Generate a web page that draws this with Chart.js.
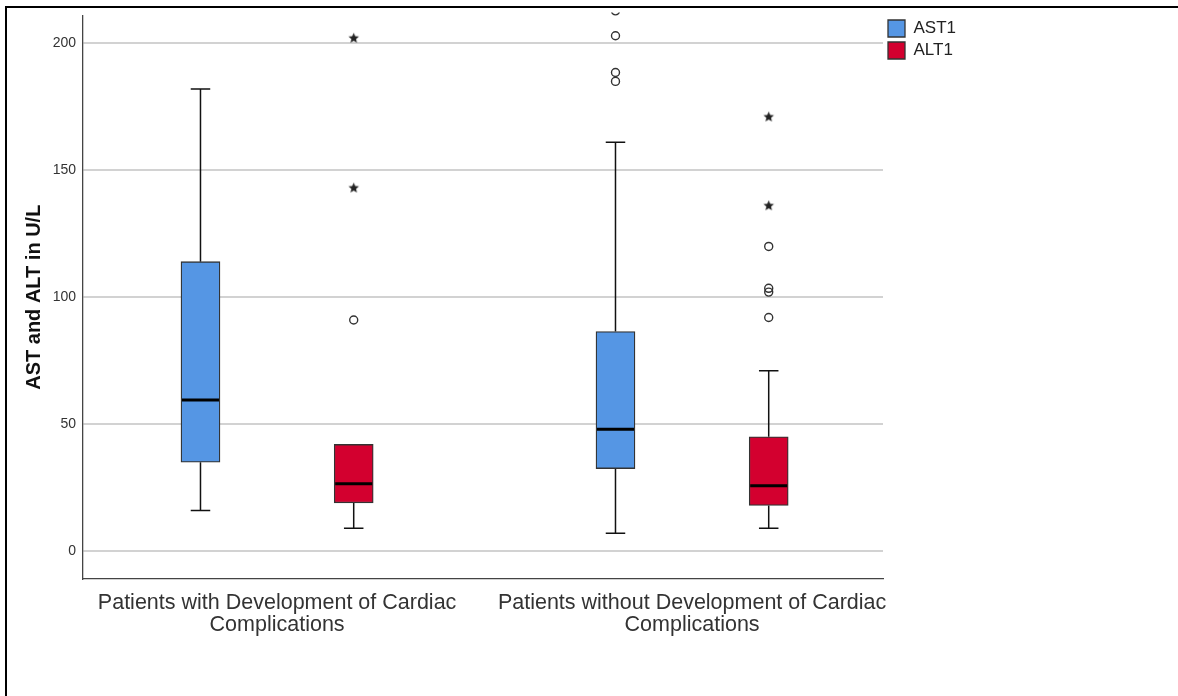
<!DOCTYPE html>
<html>
<head>
<meta charset="utf-8">
<title>AST and ALT in U/L</title>
<script src="https://cdn.jsdelivr.net/npm/chart.js@4.4.1/dist/chart.umd.min.js"></script>
<style>
  html, body { margin: 0; padding: 0; background: #fff; overflow: hidden; }
  #wrap { position: relative; width: 1178px; height: 696px; }
  #frame { position: absolute; left: 5px; top: 6px; width: 1300px; height: 800px;
           border-left: 2px solid #000; border-top: 2px solid #000; pointer-events: none; }
  canvas { position: absolute; left: 0; top: 0; }
</style>
</head>
<body>
<div id="wrap">
  <canvas id="boxChart" width="1178" height="696"></canvas>
  <div id="frame"></div>
</div>
<script>
const categories = [
  ["Patients with Development of Cardiac", "Complications"],
  ["Patients without Development of Cardiac", "Complications"]
];
const yTicks = [0, 50, 100, 150, 200];

// AST1 box statistics per group
const astMin = [16, 7];
const astQ1 = [35, 32.5];
const astMedian = [59.5, 48];
const astQ3 = [114, 86.5];
const astMax = [182, 161];
const astOutliers = [[], [203, 188.5, 185, 212.8]];
const astExtremes = [[], []];

// ALT1 box statistics per group
const altMin = [9, 9];
const altQ1 = [19, 18];
const altMedian = [26.5, 25.7];
const altQ3 = [42, 45];
const altMax = [42, 71];
const altOutliers = [[91], [92, 102, 103.5, 120]];
const altExtremes = [[143, 202], [136, 171]];

const boxOffset = 0.1846;
const astColor = "#5596e4";
const altColor = "#d3002f";

function makeStar(r) {
  const c = document.createElement("canvas");
  c.width = c.height = 2 * r + 2;
  const g = c.getContext("2d");
  g.beginPath();
  for (let k = 0; k < 10; k++) {
    const rad = k % 2 ? r * 0.45 : r;
    const a = -Math.PI / 2 + k * Math.PI / 5;
    g.lineTo(c.width / 2 + rad * Math.cos(a), c.height / 2 + rad * Math.sin(a));
  }
  g.closePath();
  g.fillStyle = "#222";
  g.fill();
  return c;
}
const star = makeStar(5.5);

function points(list, shift) {
  const out = [];
  list.forEach((vals, i) => vals.forEach(v => out.push({ x: i + shift, y: v })));
  return out;
}

const boxSeries = [
  { min: astMin, q1: astQ1, med: astMedian, q3: astQ3, max: astMax },
  { min: altMin, q1: altQ1, med: altMedian, q3: altQ3, max: altMax }
];

const boxLines = {
  id: "boxLines",
  beforeDatasetsDraw(chart) {
    const ctx = chart.ctx;
    const y = chart.scales.y;
    ctx.save();
    ctx.strokeStyle = "#111";
    ctx.lineWidth = 1.5;
    boxSeries.forEach((s, d) => {
      chart.getDatasetMeta(d).data.forEach((bar, i) => {
        const cap = bar.width / 4;
        const ends = [[s.q3[i], s.max[i]], [s.q1[i], s.min[i]]];
        ends.forEach(([from, to]) => {
          if (from === to) return;
          ctx.beginPath();
          ctx.moveTo(bar.x, y.getPixelForValue(from));
          ctx.lineTo(bar.x, y.getPixelForValue(to));
          ctx.moveTo(bar.x - cap, y.getPixelForValue(to));
          ctx.lineTo(bar.x + cap, y.getPixelForValue(to));
          ctx.stroke();
        });
      });
    });
    ctx.restore();
  },
  afterDatasetsDraw(chart) {
    const ctx = chart.ctx;
    const y = chart.scales.y;
    ctx.save();
    ctx.strokeStyle = "#000";
    ctx.lineWidth = 3;
    boxSeries.forEach((s, d) => {
      chart.getDatasetMeta(d).data.forEach((bar, i) => {
        const py = y.getPixelForValue(s.med[i]);
        ctx.beginPath();
        ctx.moveTo(bar.x - bar.width / 2 + 1, py);
        ctx.lineTo(bar.x + bar.width / 2 - 1, py);
        ctx.stroke();
      });
    });
    ctx.restore();
  }
};

const outlierStyle = {
  type: "scatter",
  pointStyle: "circle",
  pointRadius: 4,
  pointBorderWidth: 1.4,
  pointBorderColor: "#333",
  pointBackgroundColor: "rgba(0,0,0,0)",
  clip: { left: 4, top: 3, right: 4, bottom: 4 }
};
const extremeStyle = {
  type: "scatter",
  pointStyle: star,
  pointRadius: 5
};

new Chart(document.getElementById("boxChart"), {
  type: "bar",
  data: {
    datasets: [
      {
        label: "AST1",
        data: categories.map((c, i) => ({ x: i - boxOffset, y: [astQ1[i], astQ3[i]] })),
        backgroundColor: astColor,
        borderColor: "#333",
        borderWidth: 1.3,
        borderSkipped: false,
        barThickness: 39,
        grouped: false
      },
      {
        label: "ALT1",
        data: categories.map((c, i) => ({ x: i + boxOffset, y: [altQ1[i], altQ3[i]] })),
        backgroundColor: altColor,
        borderColor: "#333",
        borderWidth: 1.3,
        borderSkipped: false,
        barThickness: 39,
        grouped: false
      },
      Object.assign({ label: "AST1 outliers", data: points(astOutliers, -boxOffset) }, outlierStyle),
      Object.assign({ label: "ALT1 outliers", data: points(altOutliers, boxOffset) }, outlierStyle),
      Object.assign({ label: "AST1 extremes", data: points(astExtremes, -boxOffset) }, extremeStyle),
      Object.assign({ label: "ALT1 extremes", data: points(altExtremes, boxOffset) }, extremeStyle)
    ]
  },
  options: {
    responsive: false,
    devicePixelRatio: 1,
    animation: false,
    layout: { padding: { top: 15, left: 0, right: 215, bottom: 0 } },
    plugins: {
      tooltip: { enabled: false },
      legend: {
        position: "right",
        align: "start",
        maxWidth: 80,
        labels: {
          boxWidth: 17,
          boxHeight: 17,
          padding: 5,
          color: "#222",
          font: { family: "'Liberation Sans', Arial, sans-serif", size: 17 },
          filter: item => item.datasetIndex < 2
        }
      }
    },
    scales: {
      x: {
        type: "linear",
        min: -0.4677,
        max: 1.46,
        offset: false,
        grid: { display: false, drawTicks: false },
        border: { display: true, color: "#444", width: 1.3 },
        afterBuildTicks: s => { s.ticks = categories.map((c, i) => ({ value: i })); },
        afterFit: s => { s.height = 117; },
        ticks: {
          autoSkip: false,
          maxRotation: 0,
          minRotation: 0,
          padding: 13,
          color: "#333",
          font: { family: "'Liberation Sans', Arial, sans-serif", size: 21.5, lineHeight: "22px" },
          callback: (v, i) => categories[i]
        }
      },
      y: {
        min: -11,
        max: 211,
        grid: { color: "#d2d2d2", lineWidth: 2, drawTicks: false },
        border: { display: true, color: "#444", width: 1.3 },
        afterBuildTicks: s => { s.ticks = yTicks.map(v => ({ value: v })); },
        afterFit: s => { s.width = 83; },
        ticks: {
          padding: 7,
          color: "#333",
          font: { family: "'Liberation Sans', Arial, sans-serif", size: 14 }
        },
        title: {
          display: true,
          text: "AST and ALT in U/L",
          color: "#111",
          padding: { top: 22, bottom: 0 },
          font: { family: "'Liberation Sans', Arial, sans-serif", size: 20, weight: "bold" }
        }
      }
    }
  },
  plugins: [boxLines]
});
</script>
</body>
</html>
